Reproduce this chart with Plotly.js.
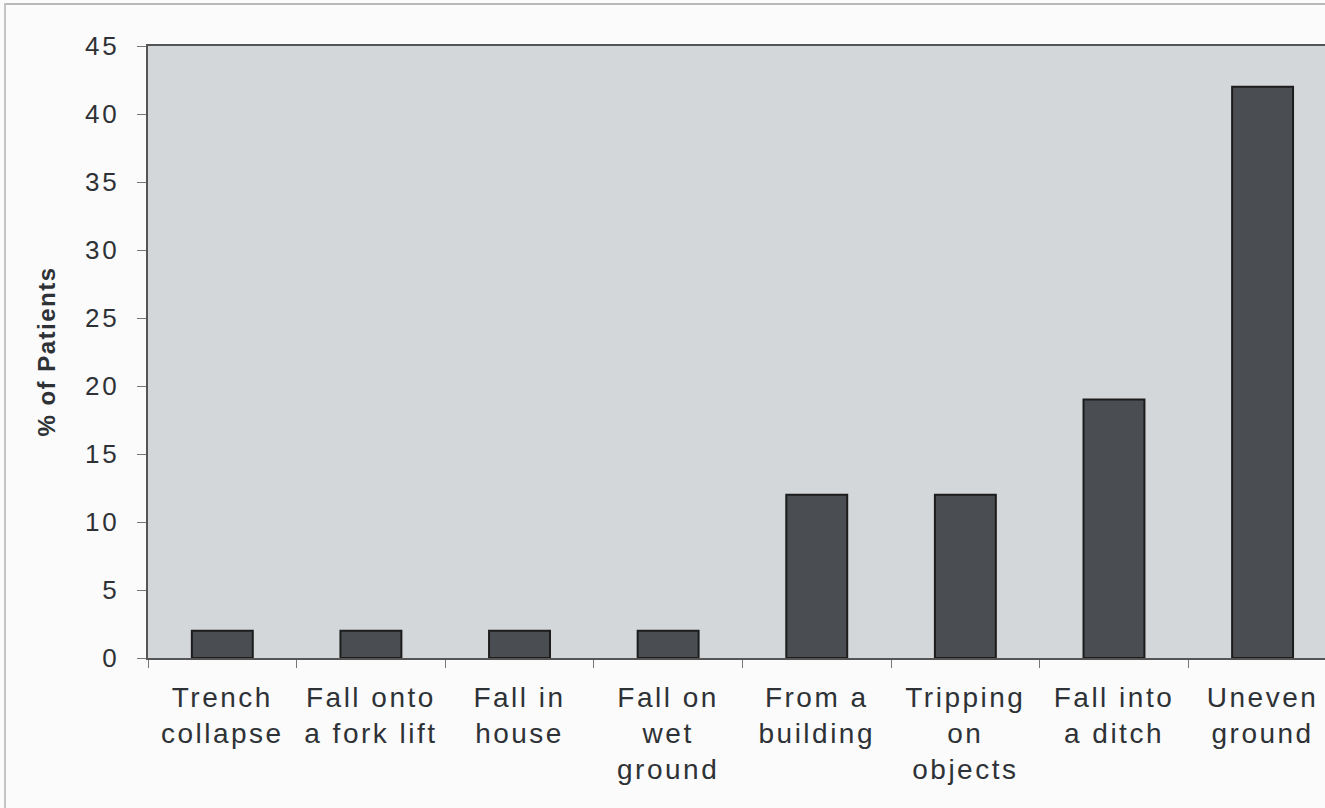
<!DOCTYPE html>
<html>
<head>
<meta charset="utf-8">
<script src="https://cdn.plot.ly/plotly-3.0.1.min.js"></script>
<style>
  html, body { margin: 0; padding: 0; background: #fbfbfb; }
  #wrap { position: relative; width: 1325px; height: 808px; overflow: hidden; }
  #chart { width: 1325px; height: 808px; }
  .frameTop { position: absolute; left: 4px; top: 3px; width: 1321px; height: 2px; background: #b9b9b9; }
  .frameLeft { position: absolute; left: 4px; top: 3px; width: 2px; height: 805px; background: #c4c4c4; }
  .xtick text { letter-spacing: 2.5px; }
  .ytick text { letter-spacing: 3px; }
  .annotation-text { letter-spacing: 1.5px; }
</style>
</head>
<body>
<div id="wrap">
  <div id="chart"></div>
  <div class="frameTop"></div>
  <div class="frameLeft"></div>
</div>
<script>
const categories = ["Trench collapse", "Fall onto a fork lift", "Fall in house", "Fall on wet ground",
                    "From a building", "Tripping on objects", "Fall into a ditch", "Uneven ground"];
const tickLabels = ["Trench<br>collapse", "Fall onto<br>a fork lift", "Fall in<br>house", "Fall on<br>wet<br>ground",
                    "From a<br>building", "Tripping<br>on<br>objects", "Fall into<br>a ditch", "Uneven<br>ground"];
const percentPatients = [2, 2, 2, 2, 12, 12, 19, 42];
const yTicks = [0, 5, 10, 15, 20, 25, 30, 35, 40, 45];
const yTitle = "% of Patients";

const trace = {
  type: "bar",
  x: categories,
  y: percentPatients,
  width: 0.41,
  marker: { color: "#4a4d52", line: { color: "#1c1c1c", width: 2 } },
  hoverinfo: "x+y"
};

const layout = {
  width: 1325,
  height: 808,
  margin: { l: 148, r: 0, t: 46, b: 150, pad: 0 },
  paper_bgcolor: "rgba(0,0,0,0)",
  plot_bgcolor: "#d4d7da",
  showlegend: false,
  font: { family: "Liberation Sans, Arial, sans-serif", color: "#2e3236" },
  xaxis: {
    type: "category",
    range: [-0.5, 7.42],
    tickvals: categories,
    ticktext: tickLabels,
    tickson: "boundaries",
    ticks: "outside",
    ticklen: 8,
    tickwidth: 1,
    tickcolor: "#777777",
    tickfont: { size: 28, color: "#2e3236" },
    showline: true,
    linecolor: "#555555",
    linewidth: 2,
    mirror: true,
    showgrid: false,
    zeroline: false,
    tickangle: 0,
    automargin: false,
    ticklabelstandoff: 13
  },
  yaxis: {
    range: [0, 45],
    tickvals: yTicks,
    ticks: "outside",
    ticklen: 9,
    tickwidth: 1,
    tickcolor: "#777777",
    tickfont: { size: 26, color: "#2e3236" },
    showline: true,
    linecolor: "#555555",
    linewidth: 2,
    showgrid: false,
    zeroline: false,
    automargin: false,
    ticklabelstandoff: 12
  },
  annotations: [{
    text: "<b>" + yTitle + "</b>",
    xref: "paper", yref: "paper",
    x: -0.087, y: 0.5,
    xanchor: "center", yanchor: "middle",
    textangle: -90,
    showarrow: false,
    font: { size: 24, color: "#2e3236" }
  }]
};

Plotly.newPlot("chart", [trace], layout, { displayModeBar: false, staticPlot: true });
</script>
</body>
</html>
